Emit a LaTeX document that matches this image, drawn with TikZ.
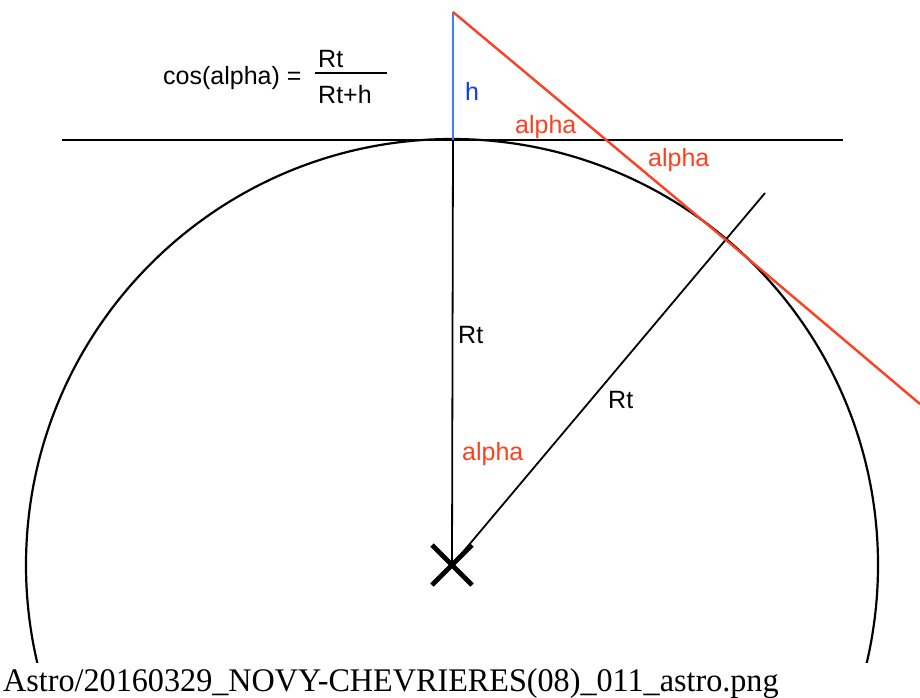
\documentclass[tikz,border=0pt]{standalone}
\usepackage{fontspec}
\usepackage{graphicx}
\usetikzlibrary{calc}
\setmainfont{Liberation Sans}
\newfontfamily\capfont{Liberation Serif}
\definecolor{redl}{RGB}{255,64,32}
\definecolor{bluel}{RGB}{60,130,235}
\definecolor{bluet}{RGB}{20,60,220}
\tikzset{
  lbl/.style={anchor=base west,inner sep=0pt,font=\fontsize{25}{30}\selectfont},
  blk/.style={draw=black,line width=1.8pt},
  rd/.style={draw=redl,line width=2.4pt},
}
\begin{document}
\begin{tikzpicture}[x=1pt,y=-1pt]
\useasboundingbox (0,0) rectangle (920,697);
\fill[white] (0,0) rectangle (920,697);
\coordinate (C) at (452,565);
\coordinate (T) at (453,140);
\coordinate (H) at (453,12);
\coordinate (P) at (726,240);
\coordinate (E) at (920,404);
\coordinate (R) at (765,193);
\coordinate (L1) at (62,140);
\coordinate (L2) at (843,140);
% circle, cut off above the caption
\begin{scope}
\clip (0,0) rectangle (920,662);
\draw[line width=2.2pt] (C) circle (426pt);
\end{scope}
% tangent line
\draw[blk] (L1) -- (L2);
% vertical radius
\draw[blk] (T) -- (C);
% oblique radius
\draw[blk] (C) -- (R);
% h
\draw[draw=bluel,line width=2.4pt] (H) -- (T);
% red tangent
\begin{scope}
\clip (0,0) rectangle (920,697);
\draw[rd] (H) -- (P) -- (E);
\end{scope}
% cross
\draw[line width=4.8pt] ($(C)+(-20,-20)$) -- ($(C)+(20,20)$);
\draw[line width=4.8pt] ($(C)+(-20,20)$) -- ($(C)+(20,-20)$);
% labels
\node[lbl] (cos) at (163,84) {cos(alpha) =};
\node[lbl] (num) at (318,67) {Rt};
\node[lbl] (den) at (318,103) {Rt+h};
\coordinate (b1) at (315,73);
\coordinate (b2) at (387,73);
\draw[line width=1.8pt] (b1) -- (b2);
\node[lbl,text=bluet] (hl) at (465,100) {h};
\node[lbl,text=redl] (a1) at (515,133) {alpha};
\node[lbl,text=redl] (a2) at (648,166) {alpha};
\node[lbl] (rt1) at (458,343) {Rt};
\node[lbl] (rt2) at (608,408) {Rt};
\node[lbl,text=redl] (a3) at (462,460) {alpha};
% caption
\node[anchor=base west,inner sep=0pt] (cap) at (3,691)
  {\scalebox{0.975}[1]{\capfont\fontsize{33}{38}\selectfont Astro/20160329\_NOVY-CHEVRIERES(08)\_011\_astro.png}};
\end{tikzpicture}
\end{document}
